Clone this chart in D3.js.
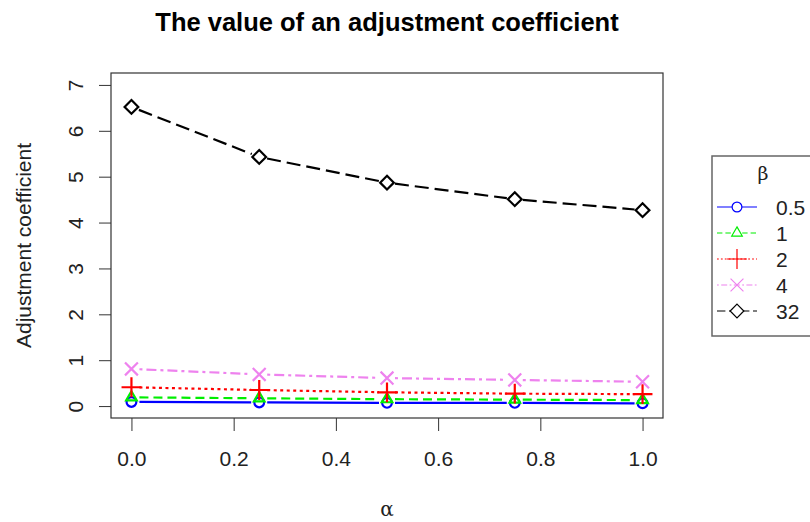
<!DOCTYPE html>
<html>
<head>
<meta charset="utf-8">
<script src="https://cdn.jsdelivr.net/npm/d3@7"></script>
<style>
  body { margin: 0; background: #fff; }
  svg { display: block; font-family: "Liberation Sans", Arial, sans-serif; }
</style>
</head>
<body>
<svg id="chart"></svg>
<script>
// values
var alphaValues = [0, 0.25, 0.5, 0.75, 1]
var betaLabels = ["0.5", "1", "2", "4", "32"]
var beta05 = [0.09, 0.08, 0.07, 0.07, 0.06]
var beta1 = [0.19, 0.17, 0.15, 0.14, 0.13]
var beta2 = [0.41, 0.35, 0.30, 0.27, 0.26]
var beta4 = [0.81, 0.69, 0.61, 0.57, 0.53]
var beta32 = [6.52, 5.43, 4.87, 4.51, 4.27]
var xTicks = [0, 0.2, 0.4, 0.6, 0.8, 1.0]
var yTicks = [0, 1, 2, 3, 4, 5, 6, 7]

var dimensions = {
    width: 810,
    height: 522,
    margin: { top: 73, bottom: 104, left: 111, right: 147 }
}

var svg = d3.select("#chart")
            .attr("width", dimensions.width)
            .attr("height", dimensions.height)

var seriesStyle = [
    { values: beta05, color: "#0000ff", dash: null, symbol: d3.symbolCircle, size: 75 },
    { values: beta1, color: "#00ee00", dash: "9,5", symbol: d3.symbolTriangle2, size: 80 },
    { values: beta2, color: "#ff0000", dash: "3,3.5", symbol: d3.symbolPlus, size: 130 },
    { values: beta4, color: "#ee82ee", dash: "3,4,10,4", symbol: d3.symbolTimes, size: 110 },
    { values: beta32, color: "#000000", dash: "14,6", symbol: d3.symbolDiamond2, size: 120 }
]

// R-style 4% padding around the data range
var xScale = d3.scaleLinear()
            .domain([-0.04, 1.04])
            .range([dimensions.margin.left, dimensions.width - dimensions.margin.right])

var yScale = d3.scaleLinear()
            .domain([-0.26, 7.26])
            .range([dimensions.height - dimensions.margin.bottom, dimensions.margin.top])

var plotBottom = dimensions.height - dimensions.margin.bottom
var plotRight = dimensions.width - dimensions.margin.right

// axes
var xAxis = d3.axisBottom(xScale).tickValues(xTicks).tickSize(13).tickFormat(d3.format(".1f"))
var gx = svg.append("g").attr("transform", "translate(0," + plotBottom + ")").call(xAxis)
gx.select(".domain").remove()
gx.selectAll("line").attr("stroke", "#333")
gx.selectAll("text")
  .attr("y", 48).attr("dy", 0)
  .style("font-size", "21px").attr("fill", "#222")

var yAxis = d3.axisLeft(yScale).tickValues(yTicks).tickSize(12)
var gy = svg.append("g").attr("transform", "translate(" + dimensions.margin.left + ",0)").call(yAxis)
gy.select(".domain").remove()
gy.selectAll("line").attr("stroke", "#333")
gy.selectAll("text")
  .attr("text-anchor", "middle")
  .attr("transform", "rotate(-90)")
  .attr("x", 0)
  .attr("y", -28)
  .attr("dy", 0)
  .style("font-size", "21px").attr("fill", "#222")

// plot box
svg.append("rect")
   .attr("x", dimensions.margin.left)
   .attr("y", dimensions.margin.top)
   .attr("width", plotRight - dimensions.margin.left)
   .attr("height", plotBottom - dimensions.margin.top)
   .attr("fill", "none")
   .attr("stroke", "#333")
   .attr("stroke-width", 1.2)

// lines (type "b": a gap round each point) + points
var gap = 8
seriesStyle.forEach(function(s) {
    var pts = s.values.map((d, i) => [xScale(alphaValues[i]), yScale(d)])
    var segs = d3.pairs(pts).map(function(p) {
        var dx = p[1][0] - p[0][0], dy = p[1][1] - p[0][1]
        var len = Math.sqrt(dx * dx + dy * dy)
        var ux = dx / len, uy = dy / len
        return [[p[0][0] + ux * gap, p[0][1] + uy * gap], [p[1][0] - ux * gap, p[1][1] - uy * gap]]
    })

    svg.append("g").selectAll("path")
       .data(segs)
       .enter()
       .append("path")
       .attr("d", d => d3.line()(d))
       .attr("fill", "none")
       .attr("stroke", s.color)
       .attr("stroke-width", 2.2)
       .attr("stroke-dasharray", s.dash)

    svg.append("g").selectAll("path")
       .data(s.values)
       .enter()
       .append("path")
       .attr("d", d3.symbol().type(s.symbol).size(s.size))
       .attr("transform", (d, i) => "translate(" + xScale(alphaValues[i]) + "," + yScale(d) + ")")
       .attr("fill", "none")
       .attr("stroke", s.color)
       .attr("stroke-width", 2.2)
})

// titles
svg.append("text")
   .attr("x", (dimensions.margin.left + plotRight) / 2)
   .attr("y", 31)
   .attr("text-anchor", "middle")
   .style("font-size", "25.5px")
   .style("font-weight", "bold")
   .text("The value of an adjustment coefficient")

svg.append("text")
   .attr("x", (dimensions.margin.left + plotRight) / 2)
   .attr("y", 516)
   .attr("text-anchor", "middle")
   .style("font-family", "'DejaVu Serif', serif")
   .style("font-size", "20px")
   .attr("fill", "#222")
   .text("α")

svg.append("text")
   .attr("transform", "rotate(-90)")
   .attr("x", -((dimensions.margin.top + plotBottom) / 2))
   .attr("y", 31)
   .attr("text-anchor", "middle")
   .style("font-size", "21px")
   .attr("fill", "#222")
   .text("Adjustment coefficient")

// legend
var legendY = d3.scalePoint()
            .domain(betaLabels)
            .range([207, 311])

svg.append("rect")
   .attr("x", 712).attr("y", 156)
   .attr("width", 120).attr("height", 180)
   .attr("fill", "none")
   .attr("stroke", "#666")
   .attr("stroke-width", 1.5)

svg.append("text")
   .attr("x", 763).attr("y", 180)
   .attr("text-anchor", "middle")
   .style("font-family", "'DejaVu Serif', serif")
   .style("font-size", "19px")
   .attr("fill", "#222")
   .text("β")

var legendRows = svg.append("g").selectAll("g")
            .data(seriesStyle)
            .enter()
            .append("g")
            .attr("transform", (d, i) => "translate(0," + legendY(betaLabels[i]) + ")")

legendRows.append("line")
   .attr("x1", 717).attr("x2", 757)
   .attr("y1", 0).attr("y2", 0)
   .attr("stroke", d => d.color)
   .attr("stroke-width", 1.1)
   .attr("stroke-dasharray", d => d.dash ? d.dash.split(",").map(v => v * 0.6).join(",") : null)

legendRows.append("path")
   .attr("d", d => d3.symbol().type(d.symbol).size(d.size)())
   .attr("transform", "translate(737,0)")
   .attr("fill", "#fff")
   .attr("stroke", d => d.color)
   .attr("stroke-width", 1.2)

legendRows.append("text")
   .attr("x", 776).attr("y", 8)
   .style("font-size", "21px")
   .attr("fill", "#222")
   .text((d, i) => betaLabels[i])
</script>
</body>
</html>
